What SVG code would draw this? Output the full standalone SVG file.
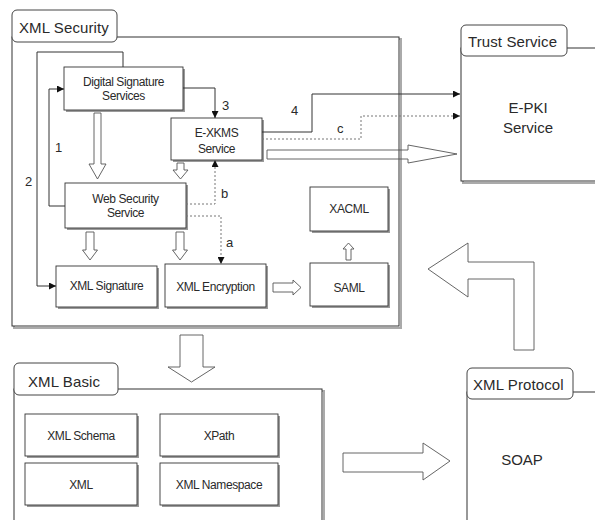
<svg xmlns="http://www.w3.org/2000/svg" width="595" height="520" viewBox="0 0 595 520">
  <style>
    .bg{fill:#fff}
    .frame{fill:#fff;stroke:#333;stroke-width:1}
    .fshadow{fill:none;stroke:#aaa;stroke-width:2}
    .tab{fill:#fff;stroke:#444;stroke-width:1}
    .box{fill:#fff;stroke:#333;stroke-width:0.9}
    .shadow{fill:#9a9a9a}
    .hollow{fill:#fff;stroke:#555;stroke-width:0.9}
    .hollow-open{fill:none;stroke:#555;stroke-width:0.9}
    .line{fill:none;stroke:#333;stroke-width:1}
    .dot{fill:none;stroke:#777;stroke-width:1;stroke-dasharray:2 2}
    text{font-family:"Liberation Sans","DejaVu Sans",sans-serif;fill:#2a2a2a}
    .lbl{font-size:12px;text-anchor:middle;letter-spacing:-0.4px}
    .tabt{font-size:15px;letter-spacing:0.1px}
    .num{font-size:13px}
    .big{font-size:15px;text-anchor:middle}
  </style>
  <defs>
    <marker id="ah" viewBox="0 0 10 10" refX="10" refY="5" markerWidth="8" markerHeight="7" markerUnits="userSpaceOnUse" orient="auto">
      <path d="M0,0 L10,5 L0,10 z" fill="#111"/>
    </marker>
  </defs>
  <rect class="bg" x="0" y="0" width="595" height="520"/>

  <!-- XML Security container -->
  <g id="xml-security">
    <rect class="fshadow" x="14" y="39" width="387" height="289"/>
    <rect class="frame" x="12" y="37" width="387" height="289"/>
    <rect class="tab" x="12" y="10" width="105" height="32" rx="5"/>
    <text class="tabt" x="19" y="33">XML Security</text>
  </g>

  <!-- Trust Service container -->
  <g id="trust-service">
    <rect class="fshadow" x="463" y="50" width="140" height="133"/>
    <rect class="frame" x="461" y="48" width="140" height="133"/>
    <rect class="tab" x="461" y="25" width="106" height="31" rx="5"/>
    <text class="tabt" x="468" y="47">Trust Service</text>
    <text class="big" x="528" y="113">E-PKI</text>
    <text class="big" x="528" y="133">Service</text>
  </g>

  <!-- XML Basic container -->
  <g id="xml-basic">
    <rect class="fshadow" x="16" y="391" width="308" height="140"/>
    <rect class="frame" x="14" y="389" width="308" height="140"/>
    <rect class="tab" x="14" y="363" width="104" height="32" rx="5"/>
    <text class="tabt" x="28" y="387">XML Basic</text>
  </g>

  <!-- XML Protocol container -->
  <g id="xml-protocol">
    <rect class="frame" x="467" y="392" width="140" height="140"/>
    <rect class="tab" x="467" y="368" width="106" height="31" rx="5"/>
    <text class="tabt" x="473" y="390">XML Protocol</text>
    <text class="big" x="522" y="465">SOAP</text>
  </g>

  <!-- component boxes -->
  <g id="digital-signature">
    <rect class="shadow" x="66" y="69" width="119" height="43"/>
    <rect class="box" x="64" y="67" width="119" height="43"/>
    <text class="lbl" x="123.5" y="86">Digital Signature</text>
    <text class="lbl" x="123.5" y="100">Services</text>
  </g>
  <g id="e-xkms">
    <rect class="shadow" x="173" y="120" width="91" height="42"/>
    <rect class="box" x="171" y="118" width="91" height="42"/>
    <text class="lbl" x="216.5" y="137">E-XKMS</text>
    <text class="lbl" x="216.5" y="153">Service</text>
  </g>
  <g id="web-security">
    <rect class="shadow" x="67" y="185" width="121" height="45"/>
    <rect class="box" x="65" y="183" width="121" height="45"/>
    <text class="lbl" x="125.5" y="203">Web Security</text>
    <text class="lbl" x="125.5" y="217">Service</text>
  </g>
  <g id="xml-signature">
    <rect class="shadow" x="58" y="268" width="101" height="41"/>
    <rect class="box" x="56" y="266" width="101" height="41"/>
    <text class="lbl" x="106.5" y="290">XML Signature</text>
  </g>
  <g id="xml-encryption">
    <rect class="shadow" x="167" y="266" width="101" height="43"/>
    <rect class="box" x="165" y="264" width="101" height="43"/>
    <text class="lbl" x="215.5" y="291">XML Encryption</text>
  </g>
  <g id="saml">
    <rect class="shadow" x="312" y="265" width="78" height="43"/>
    <rect class="box" x="310" y="263" width="78" height="43"/>
    <text class="lbl" x="349" y="292">SAML</text>
  </g>
  <g id="xacml">
    <rect class="shadow" x="312" y="189" width="78" height="44"/>
    <rect class="box" x="310" y="187" width="78" height="44"/>
    <text class="lbl" x="349" y="213">XACML</text>
  </g>
  <g id="xml-schema">
    <rect class="shadow" x="27" y="416" width="112" height="42"/>
    <rect class="box" x="25" y="414" width="112" height="42"/>
    <text class="lbl" x="81" y="440">XML Schema</text>
  </g>
  <g id="xpath">
    <rect class="shadow" x="162" y="416" width="118" height="42"/>
    <rect class="box" x="160" y="414" width="118" height="42"/>
    <text class="lbl" x="219" y="440">XPath</text>
  </g>
  <g id="xml">
    <rect class="shadow" x="27" y="465" width="112" height="42"/>
    <rect class="box" x="25" y="463" width="112" height="42"/>
    <text class="lbl" x="81" y="489">XML</text>
  </g>
  <g id="xml-namespace">
    <rect class="shadow" x="162" y="465" width="118" height="42"/>
    <rect class="box" x="160" y="463" width="118" height="42"/>
    <text class="lbl" x="219" y="489">XML Namespace</text>
  </g>

  <!-- connectors -->
  <g id="connectors">
    <path class="line" d="M123,67 V52 H37 V286 H56" marker-end="url(#ah)"/>
    <path class="line" d="M65,206 H49 V89 H64" marker-end="url(#ah)"/>
    <path class="line" d="M183,88 H215 V118" marker-end="url(#ah)"/>
    <path class="line" d="M262,132 H312 V94 H460" marker-end="url(#ah)"/>
    <path class="dot" d="M186,216 H221 V264" marker-end="url(#ah)"/>
    <path class="dot" d="M186,204 H215 V160" marker-end="url(#ah)"/>
    <path class="dot" d="M262,139 H361 V116 H460" marker-end="url(#ah)"/>

    <text class="num" x="55" y="152">1</text>
    <text class="num" x="25" y="186">2</text>
    <text class="num" x="222" y="110">3</text>
    <text class="num" x="291" y="115">4</text>
    <text class="num" x="226" y="247">a</text>
    <text class="num" x="221" y="198">b</text>
    <text class="num" x="337" y="133">c</text>

    <!-- block arrows -->
    <polygon class="hollow" points="94,113 101,113 101,164 106,164 97.5,179 89,164 94,164"/>
    <polygon class="hollow" points="177,163 184,163 184,170 188,170 180.5,179 173,170 177,170"/>
    <polygon class="hollow" points="86,232 94,232 94,250 97.5,250 90,260 82.5,250 86,250"/>
    <polygon class="hollow" points="176,232 184,232 184,250 187.5,250 180,260 172.5,250 176,250"/>
    <polygon class="hollow" points="273,283 293,283 293,280 301,287.5 293,295 293,292 273,292"/>
    <polygon class="hollow" points="346,260 346,249 343,249 348.5,243 354,249 351,249 351,260"/>
    <polygon class="hollow-open" points="267,150 408,150 408,145 457,154 408,163 408,159 267,159"/>
    <polygon class="hollow" points="428,269 468,243 468,262 534,262 534,350 514,350 514,279 468,279 468,297"/>
    <polygon class="hollow" points="180,335 203,335 203,367 215,367 191.5,382 168,367 180,367"/>
    <polygon class="hollow" points="343,453 423,453 423,443 450,461 423,480 423,472 343,472"/>
  </g>
</svg>
